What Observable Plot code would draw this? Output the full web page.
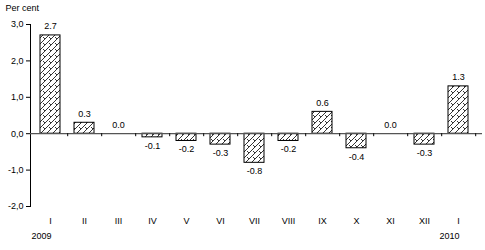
<!DOCTYPE html>
<html><head><meta charset="utf-8">
<script src="https://cdn.jsdelivr.net/npm/d3@7"></script>
<script src="https://cdn.jsdelivr.net/npm/@observablehq/plot@0.6"></script>
<style>body{margin:0;background:#fff}</style>
</head><body><div id="chart"></div>
<script>
const months = ["I","II","III","IV","V","VI","VII","VIII","IX","X","XI","XII","I"];
const values = [2.7, 0.3, 0.0, -0.1, -0.2, -0.3, -0.8, -0.2, 0.6, -0.4, 0.0, -0.3, 1.3];
const years = [{i: 0, label: "2009"}, {i: 12, label: "2010"}];
const yTicks = [-2, -1, 0, 1, 2, 3];

const data = values.map((v, i) => ({i, v, m: months[i]}));
const font = "Liberation Sans, Arial, sans-serif";
const step = (485 - 30 - 8) / months.length;

const chart = Plot.plot({
  width: 485, height: 250,
  marginLeft: 30, marginRight: 8, marginTop: 24, marginBottom: 44,
  style: {fontFamily: font, fontSize: "9px", color: "#000", background: "#fff"},
  x: {type: "band", domain: d3.range(months.length), paddingInner: 0.42, paddingOuter: 0.21, align: 0.5},
  y: {domain: [-2, 3]},
  marks: [
    Plot.axisY({ticks: yTicks, tickFormat: d => d.toFixed(1).replace(".", ","), tickSize: 4, tickPadding: 3, label: null, fontSize: 9}),
    Plot.axisX({tickFormat: i => months[i], tickSize: 0, tickPadding: 11, label: null, fontSize: 9}),
    Plot.frame({anchor: "left"}),
    Plot.barY(data, {x: "i", y: "v", fill: "url(#hatch)", stroke: "#000", strokeWidth: 1}),
    Plot.ruleY([0], {stroke: "#555", strokeWidth: 1.3, insetRight: -5}),
    Plot.ruleX(data, {x: "i", y1: 0, y2: 0, insetBottom: -3, dx: step / 2, stroke: "#000"}),
    Plot.text(data.filter(d => d.v >= 0), {x: "i", y: "v", text: d => d.v.toFixed(1), dy: -6, fontSize: 9, lineAnchor: "bottom"}),
    Plot.text(data.filter(d => d.v < 0), {x: "i", y: "v", text: d => d.v.toFixed(1), dy: 5, fontSize: 9, lineAnchor: "top"}),
    Plot.text(years, {x: "i", text: "label", frameAnchor: "bottom", dy: 32, dx: -19, textAnchor: "start", fontSize: 9}),
    Plot.text(["Per cent"], {frameAnchor: "top-left", dx: -25, dy: -20, textAnchor: "start", fontSize: 9})
  ]
});
const svg = d3.select(chart);
const defs = svg.insert("defs", ":first-child");
const pat = defs.append("pattern").attr("id", "hatch").attr("patternUnits", "userSpaceOnUse")
  .attr("width", 6).attr("height", 6);
pat.append("rect").attr("width", 6).attr("height", 6).attr("fill", "#fff");
pat.append("path").attr("d", "M-1,7 L7,-1 M-1,1 L1,-1 M5,7 L7,5 M1,1 L3,3")
  .attr("stroke", "#000").attr("stroke-width", 0.8).attr("fill", "none");
document.getElementById("chart").append(chart);
</script>
</body></html>
